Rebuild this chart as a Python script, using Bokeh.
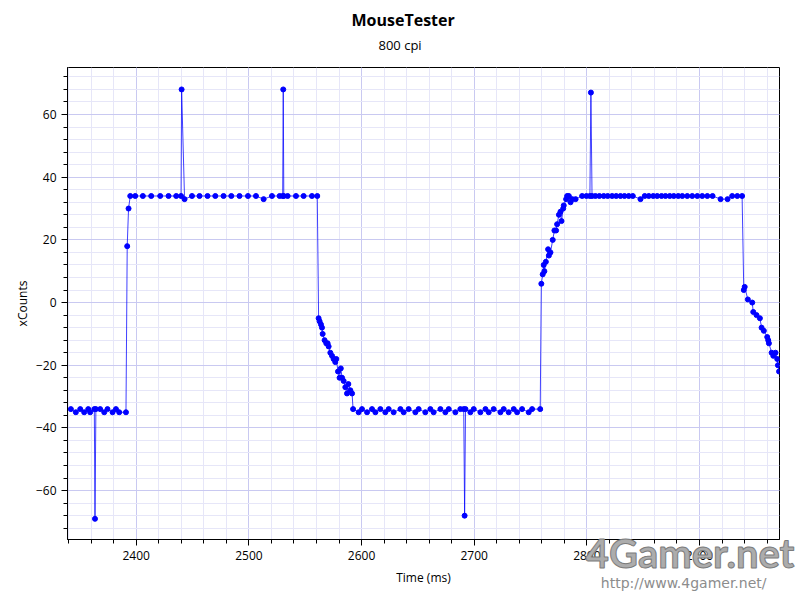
from bokeh.plotting import figure
from bokeh.models import Range1d, Title, SingleIntervalTicker, ColumnDataSource
from bokeh.embed import file_html
from bokeh.resources import INLINE

# ---- data ----
time_ms = [
    # low level before first rise
    2342.0, 2346.4, 2350.3, 2353.8, 2357.4, 2359.1, 2362.8, 2363.4, 2364.2, 2368.0,
    2371.6, 2374.5, 2379.0, 2382.0, 2384.9, 2390.9,
    # first rise
    2392.0, 2393.2, 2394.7,
    # first plateau
    2399.1, 2405.9, 2413.3, 2421.3, 2428.7, 2435.5, 2439.8, 2440.3, 2442.9, 2449.5,
    2456.2, 2463.3, 2470.2, 2477.5, 2484.4, 2491.7, 2499.2, 2506.3, 2513.1, 2520.5,
    2527.3, 2530.0, 2530.5, 2531.0, 2534.4, 2541.8, 2548.6, 2556.0, 2560.7,
    # first descent
    2561.9, 2562.8, 2564.0, 2564.9, 2565.5, 2567.2, 2568.7, 2569.9, 2570.8, 2572.3,
    2573.8, 2575.2, 2576.7, 2577.6, 2579.1, 2580.5, 2581.6, 2582.7, 2584.1, 2585.6,
    2587.1, 2588.3, 2590.1, 2591.6, 2592.5,
    # low plateau
    2597.4, 2600.4, 2604.9, 2609.3, 2612.3, 2616.7, 2621.1, 2624.1, 2628.5, 2634.5,
    2637.4, 2641.8, 2647.8, 2650.7, 2656.6, 2661.1, 2664.0, 2670.0, 2674.4, 2677.4,
    2683.3, 2687.7, 2690.7, 2691.5, 2692.3, 2696.6, 2699.6, 2705.5, 2710.0, 2712.9,
    2717.3, 2723.3, 2726.2, 2730.6, 2735.1, 2738.1, 2742.5, 2748.4, 2751.4, 2758.6,
    # second rise
    2759.6, 2760.8, 2761.7, 2762.3, 2763.6, 2765.6, 2766.3, 2767.7, 2769.7, 2771.2,
    2772.7, 2773.6, 2775.2, 2776.6, 2777.5, 2779.0, 2779.5, 2781.6, 2782.5, 2784.0,
    2785.5, 2787.0, 2790.0,
    # second plateau
    2795.8, 2799.6, 2802.7, 2803.6, 2804.6, 2807.6, 2811.1, 2815.0, 2818.5, 2822.4,
    2826.0, 2829.8, 2833.4, 2837.2, 2840.8, 2847.6, 2851.4, 2855.0, 2858.9, 2862.4,
    2866.3, 2869.8, 2873.6, 2877.2, 2881.1, 2884.7, 2889.1, 2893.5, 2898.0, 2902.4,
    2906.9, 2911.6, 2918.7, 2924.9, 2929.0, 2933.5, 2937.8,
    # second descent
    2939.3, 2940.1, 2942.9, 2946.8, 2947.7, 2950.6, 2953.6, 2955.1, 2957.1, 2960.1,
    2961.0, 2961.6, 2964.0, 2965.5, 2967.5, 2969.0, 2969.6, 2970.6,
]

x_counts = [
    -34, -35, -34, -35, -34, -35, -34, -69, -34, -34,
    -35, -34, -35, -34, -35, -35,
    18, 30, 34,
    34, 34, 34, 34, 34, 34, 34, 68, 33, 34,
    34, 34, 34, 34, 34, 34, 34, 34, 33, 34,
    34, 34, 68, 34, 34, 34, 34, 34, 34,
    -5, -6, -7, -8, -10, -12, -13, -13, -14, -16,
    -17, -18, -19, -18, -22, -24, -21, -24, -25, -27,
    -29, -26, -28, -29, -34,
    -35, -34, -35, -34, -35, -34, -35, -34, -35, -34,
    -35, -34, -35, -34, -35, -34, -35, -34, -35, -34,
    -35, -34, -34, -68, -34, -35, -34, -35, -34, -35,
    -34, -35, -34, -35, -34, -35, -34, -35, -34, -34,
    6, 9, 12, 10, 13, 17, 15, 16, 20, 23,
    23, 25, 28, 29, 26, 30, 31, 33, 34, 34,
    32, 33, 33,
    34, 34, 34, 67, 34, 34, 34, 34, 34, 34,
    34, 34, 34, 34, 34, 33, 34, 34, 34, 34,
    34, 34, 34, 34, 34, 34, 34, 34, 34, 34,
    34, 34, 33, 33, 34, 34, 34,
    4, 5, 1, 0, -3, -4, -5, -8, -9, -11,
    -12, -13, -16, -17, -16, -18, -20, -22,
]

title_text = "MouseTester"
subtitle_text = "800 cpi"
x_label = "Time (ms)"
y_label = "xCounts"
logo_text = "4Gamer.net"
url_text = "http://www.4gamer.net/"
x_limits = [2339, 2971]
y_limits = [-75.6, 75.0]

FONT = "Open Sans"

source = ColumnDataSource(data=dict(t=time_ms, v=x_counts))

p = figure(
    width=800, height=600,
    output_backend="svg", toolbar_location=None,
    x_range=Range1d(*x_limits), y_range=Range1d(*y_limits),
    title_location=None,
    min_border_left=67, min_border_right=21,
    min_border_top=67, min_border_bottom=61,
)
p.background_fill_color = "white"
p.border_fill_color = "white"
p.outline_line_color = "black"
p.outline_line_width = 1
p.outline_line_alpha = 1

# titles (first added sits closest to the frame)
p.add_layout(Title(text=subtitle_text, align="left", offset=311,
                   text_font=FONT, text_font_size="13px",
                   text_font_style="normal", text_color="black", standoff=28), "above")
p.add_layout(Title(text=title_text, align="left", offset=284,
                   text_font=FONT, text_font_size="16px",
                   text_font_style="bold", text_color="black", standoff=-23), "above")

p.xaxis.ticker = SingleIntervalTicker(interval=100, num_minor_ticks=5)
p.yaxis.ticker = SingleIntervalTicker(interval=20, num_minor_ticks=5)
p.xaxis.axis_label = x_label
p.yaxis.axis_label = y_label
for ax in (p.xaxis, p.yaxis):
    ax.axis_line_color = "black"
    ax.axis_line_width = 1
    ax.major_tick_line_color = "black"
    ax.minor_tick_line_color = "black"
    ax.major_tick_out = 6
    ax.major_tick_in = 0
    ax.minor_tick_out = 4
    ax.minor_tick_in = 0
    ax.major_label_text_font = FONT
    ax.major_label_text_font_size = "12px"
    ax.major_label_text_color = "black"
    ax.axis_label_text_font = FONT
    ax.axis_label_text_font_size = "12px"
    ax.axis_label_text_font_style = "normal"
    ax.axis_label_text_color = "black"
    ax.axis_label_standoff = 6
p.yaxis.axis_label_standoff = 2
p.yaxis.major_label_orientation = "horizontal"

p.grid.grid_line_color = "#C9C9F1"
p.grid.grid_line_width = 1
p.grid.minor_grid_line_color = "#E6E6F8"
p.grid.minor_grid_line_width = 1

p.line("t", "v", source=source, line_color="#0000FF", line_width=1, line_alpha=0.75)
p.scatter("t", "v", source=source, size=5, fill_color="#0000FF", line_color="#0000FF")

# watermark, placed in the bottom side panel (below the axis) and pulled up
p.add_layout(Title(text=url_text, align="right", offset=13, vertical_align="top",
                   text_font="DejaVu Sans", text_font_size="14px",
                   text_font_style="normal", text_color="#8C8C8C", standoff=-28), "below")
p.add_layout(Title(text=logo_text, align="right", offset=-15, vertical_align="top",
                   text_font="Lato", text_font_size="40px",
                   text_font_style="bold", text_color="#ACACAC",
                   text_outline_color="#7C7C7C", standoff=-119), "below")

with open("out.html", "w") as f:
    f.write(file_html(p, INLINE))
